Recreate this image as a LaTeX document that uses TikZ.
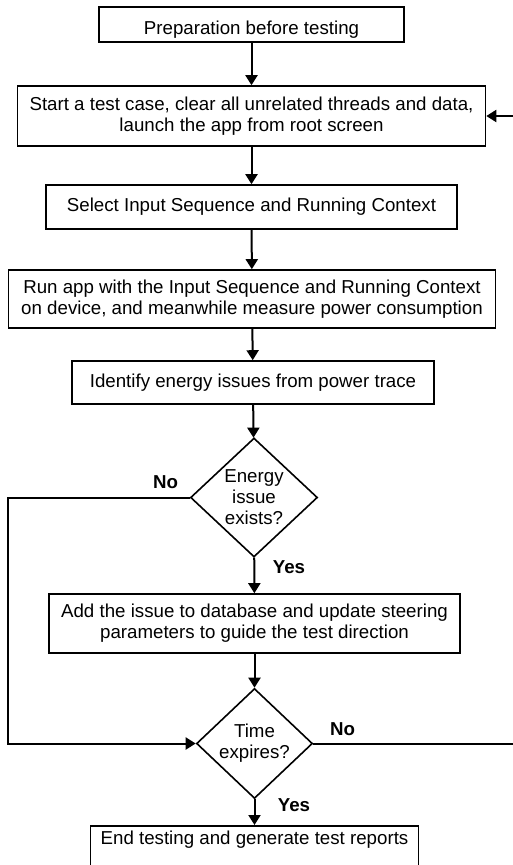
\documentclass[tikz,border=0pt]{standalone}
\usepackage{fontspec}
\setmainfont{Liberation Sans}
\usetikzlibrary{shapes.geometric,arrows.meta}
\newcommand\flowfont{\fontsize{18.7}{21}\selectfont}
\begin{document}
\begin{tikzpicture}[x=1pt,y=-1pt,
  box/.style={draw, line width=1.6pt, align=center, inner sep=0pt, font=\flowfont},
  decision/.style={draw, diamond, line width=1.6pt, align=center, inner sep=0pt, font=\flowfont},
  arr/.style={line width=2pt, -{Triangle[width=12pt,length=10pt]}},
  lbl/.style={font=\flowfont\bfseries}]
  \useasboundingbox (0,0) rectangle (513,865);

  % Steps
  \node[box, minimum width=305pt, minimum height=35pt, text height=19pt, text depth=0pt] (prep) at (251.5,24.5) {Preparation before testing};
  \node[box, minimum width=468pt, minimum height=60pt] (start) at (251.5,116)
    {Start a test case, clear all unrelated threads and data,\\launch the app from root screen};
  \node[box, minimum width=411pt, minimum height=44pt] (select) at (251.5,207)
    {Select Input Sequence and Running Context};
  \node[box, minimum width=487pt, minimum height=58pt] (run) at (252,299)
    {Run app with the Input Sequence and Running Context\\on device, and meanwhile measure power consumption};
  \node[box, minimum width=362pt, minimum height=43pt] (identify) at (253,382.5)
    {Identify energy issues from power trace};

  % Decisions and update
  \node[decision, minimum width=127pt, minimum height=119pt] (energy) at (254,497.5)
    {Energy\\issue\\exists?};
  \node[box, minimum width=411pt, minimum height=59pt] (add) at (254.5,623.5)
    {Add the issue to database and update steering\\parameters to guide the test direction};
  \node[decision, minimum width=116pt, minimum height=110pt] (time) at (254.5,743.5)
    {Time\\expires?};

  % End (cut by the page)
  \node[box, anchor=north, minimum width=328pt, inner ysep=5pt, text height=13.3pt, text depth=25pt] (finish) at (254.5,825)
    {End testing and generate test reports};

  % Main flow
  \draw[arr] (prep) -- (start);
  \draw[arr] (start) -- (select);
  \draw[arr] (select) -- (run);
  \draw[arr] (run) -- (identify);
  \draw[arr] (identify) -- (energy);
  \draw[arr] (energy) -- (add);
  \draw[arr] (add) -- (time);
  \draw[arr] (time) -- (finish);

  % Loops
  \coordinate (loopL) at (8,497.5);
  \coordinate (loopR) at (515.5,743.5);
  \draw[arr] (energy.west) -- (loopL) |- (time.west);
  \draw[arr] (time.east) -- (loopR) |- (start.east);

  % Labels
  \node[lbl] (noA) at (165.5,482) {No};
  \node[lbl] (yesA) at (289,567) {Yes};
  \node[lbl] (noB) at (342.5,729) {No};
  \node[lbl] (yesB) at (294,805) {Yes};
\end{tikzpicture}
\end{document}
